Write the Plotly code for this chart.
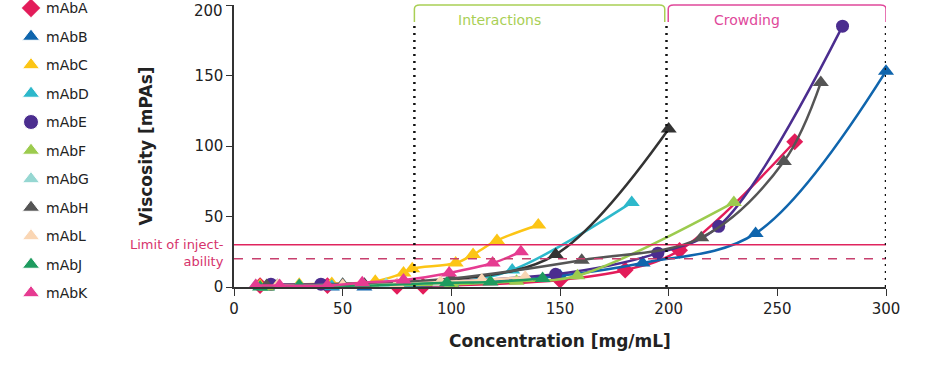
import plotly.graph_objects as go

names = ["mAbA", "mAbB", "mAbC", "mAbD", "mAbE", "mAbF", "mAbG", "mAbH", "mAbL", "mAbJ", "mAbK"]
colors = ["#e31c5a", "#0f65ad", "#fcc515", "#2db8cb", "#4b2d8f", "#9ccb4e",
          "#96d7d2", "#555555", "#fad6b4", "#1e9b5f", "#e63b91"]
symbols = ["diamond", "triangle-up", "triangle-up", "triangle-up", "circle", "triangle-up",
           "triangle-up", "triangle-up", "triangle-up", "triangle-up", "triangle-up"]

conc = {
    "mAbA": [12, 43, 75, 87, 150, 180, 205, 258],
    "mAbB": [15, 45, 60, 100, 150, 188, 240, 300],
    "mAbC": [12, 30, 45, 65, 78, 82, 102, 110, 121, 140],
    "mAbD": [15, 45, 75, 100, 128, 183],
    "mAbE": [17, 40, 148, 195, 223, 280],
    "mAbF": [15, 50, 100, 130, 158, 230],
    "mAbG": [10, 30, 50, 70, 95],
    "mAbH": [15, 50, 100, 160, 215, 253, 270],
    "mAbL": [20, 50, 75, 95, 114, 134],
    "mAbJ": [12, 30, 60, 98, 118, 142],
    "mAbK": [10, 21, 43, 59, 78, 99, 119, 132],
}
visc = {
    "mAbA": [1, 1, 0.5, 0.5, 5, 12, 26, 103],
    "mAbB": [0, 0, 0, 2, 8, 17, 38, 153],
    "mAbC": [1, 2, 2.5, 4, 10, 13, 17, 23, 33, 44],
    "mAbD": [0, 0.5, 1, 3, 12, 60],
    "mAbE": [2, 2, 9, 24, 43, 185],
    "mAbF": [0, 1, 2, 4, 8, 60],
    "mAbG": [1, 1, 2, 2, 3],
    "mAbH": [1, 2, 6, 19, 35, 89, 145],
    "mAbL": [1, 1, 2, 3.5, 5, 7],
    "mAbJ": [0, 1, 1, 3, 3.5, 6],
    "mAbK": [1, 1, 1, 3, 5, 10, 17, 25],
}
# second grey curve (not separately labelled in the legend)
conc_h2 = [20, 60, 100, 148, 200]
visc_h2 = [1, 2, 5, 23, 112]

limit_solid = 30
limit_dashed = 20
region_bounds = [83, 199, 300]
region_labels = ["Interactions", "Crowding"]
y_ticks = [0, 50, 100, 150, 200]
x_ticks = [0, 50, 100, 150, 200, 250, 300]

W, H = 946, 374
X0, X1, Y0, Y1 = 234, 886, 287, 5  # plot area in pixels

fig = go.Figure()
for i, n in enumerate(names):
    if n == "mAbH":
        fig.add_trace(go.Scatter(
            x=conc_h2, y=visc_h2, mode="lines+markers", name="mAbH", showlegend=False,
            line=dict(color="#333333", width=2.5, shape="spline"),
            marker=dict(symbol="triangle-up", size=14, color="#333333"), cliponaxis=False))
    fig.add_trace(go.Scatter(
        x=conc[n], y=visc[n], mode="lines+markers", name=n, showlegend=False,
        line=dict(color=colors[i], width=2.5, shape="spline"),
        marker=dict(symbol=symbols[i], size=13 if symbols[i] != "triangle-up" else 14, color=colors[i]),
        cliponaxis=False))

# manual legend on a pixel-scaled hidden axis pair
leg_x = 31
leg_y0, leg_dy = 8, 28.5
leg_ys = [leg_y0 + k * leg_dy for k in range(len(names))]
fig.add_trace(go.Scatter(
    x=[leg_x] * len(names), y=leg_ys, mode="markers", xaxis="x2", yaxis="y2", showlegend=False,
    marker=dict(symbol=symbols, color=colors, opacity=1,
                size=[15 if s == "triangle-up" else 15 for s in symbols]),
    hoverinfo="skip", cliponaxis=False))

shapes = []
shapes.append(dict(type="line", xref="x", yref="y", x0=0, x1=300, y0=limit_solid, y1=limit_solid,
                   line=dict(color="#e0245e", width=1.5)))
shapes.append(dict(type="line", xref="x", yref="y", x0=0, x1=300, y0=limit_dashed, y1=limit_dashed,
                   line=dict(color="#c8406e", width=1.5, dash="dash")))
for xb in region_bounds:
    shapes.append(dict(type="line", xref="x", yref="y", x0=xb, x1=xb, y0=0, y1=188,
                       line=dict(color="#111111", width=2.5, dash="2px,5px")))

ytop = (H - Y1) / H
ycorner = (H - 22) / H
yround = (H - 9) / H

def bracket(x0, x1, color):
    return dict(type="path", xref="x", yref="paper",
                path=(f"M {x0},{ycorner} L {x0},{yround} Q {x0},{ytop} {x0+2.5},{ytop} "
                      f"L {x1-2.5},{ytop} Q {x1},{ytop} {x1},{yround} L {x1},{ycorner}"),
                line=dict(color=color, width=1.5))
shapes.append(bracket(region_bounds[0], region_bounds[1] - 0.8, "#a9cf55"))
shapes.append(bracket(region_bounds[1] + 0.8, region_bounds[2], "#e0489a"))

annotations = [
    dict(x=122, y=(H - 20) / H, xref="x", yref="paper", text=region_labels[0], yanchor="middle",
         showarrow=False, font=dict(size=14, color="#a9cf55")),
    dict(x=236, y=(H - 20) / H, xref="x", yref="paper", text=region_labels[1], yanchor="middle",
         showarrow=False, font=dict(size=14, color="#e0489a")),
    dict(x=226 / W, y=(limit_solid + limit_dashed) / 2 - 1.2, xref="paper", yref="y",
         text="Limit of inject-<br>ability", yanchor="middle",
         showarrow=False, xanchor="right", align="right",
         font=dict(size=13, color="#d6336c")),
    # top y tick label, nudged down so it is not clipped by the page edge
    dict(x=225 / W, y=(H - 11) / H, xref="paper", yref="paper", text=str(y_ticks[-1]),
         showarrow=False, xanchor="right", yanchor="middle",
         font=dict(size=15, color="#222222")),
]
for n, yy in zip(names, leg_ys):
    annotations.append(dict(x=44, y=yy, xref="x2", yref="y2", text=n, showarrow=False,
                            xanchor="left", yanchor="middle", font=dict(size=14, color="#222222")))

fig.update_layout(
    width=W, height=H,
    margin=dict(l=0, r=0, t=0, b=0),
    plot_bgcolor="white", paper_bgcolor="white",
    font=dict(family="DejaVu Sans", color="#222222"),
    shapes=shapes, annotations=annotations,
    showlegend=False,
    xaxis=dict(domain=[X0 / W, X1 / W], range=[0, 300], tickvals=x_ticks,
               showgrid=False, zeroline=False, automargin=False, ticklabeloverflow="allow",
               showline=True, linecolor="#333333", linewidth=1.5, ticks="outside", ticklen=7,
               tickcolor="#333333", tickfont=dict(size=15),
               title=dict(text="<b>Concentration [mg/mL]</b>", font=dict(size=17), standoff=18)),
    yaxis=dict(domain=[(H - Y0) / H, (H - Y1) / H], range=[0, 200], tickvals=y_ticks,
               ticktext=[str(v) for v in y_ticks[:-1]] + [""],
               showgrid=False, zeroline=False, automargin=False, ticklabeloverflow="allow",
               showline=True, linecolor="#333333", linewidth=1.5, ticks="outside", ticklen=6,
               tickcolor="#333333", tickfont=dict(size=15),
               title=dict(text="<b>Viscosity [mPAs]</b>", font=dict(size=17), standoff=38)),
    xaxis2=dict(domain=[0, 0.2], range=[0, 0.2 * W], visible=False, anchor="y2"),
    yaxis2=dict(domain=[0, 1], range=[H, 0], visible=False, anchor="x2"),
)

fig.write_html("out.html", config={"displayModeBar": False},
               post_script="document.body.style.margin='0';document.body.style.padding='0';")
